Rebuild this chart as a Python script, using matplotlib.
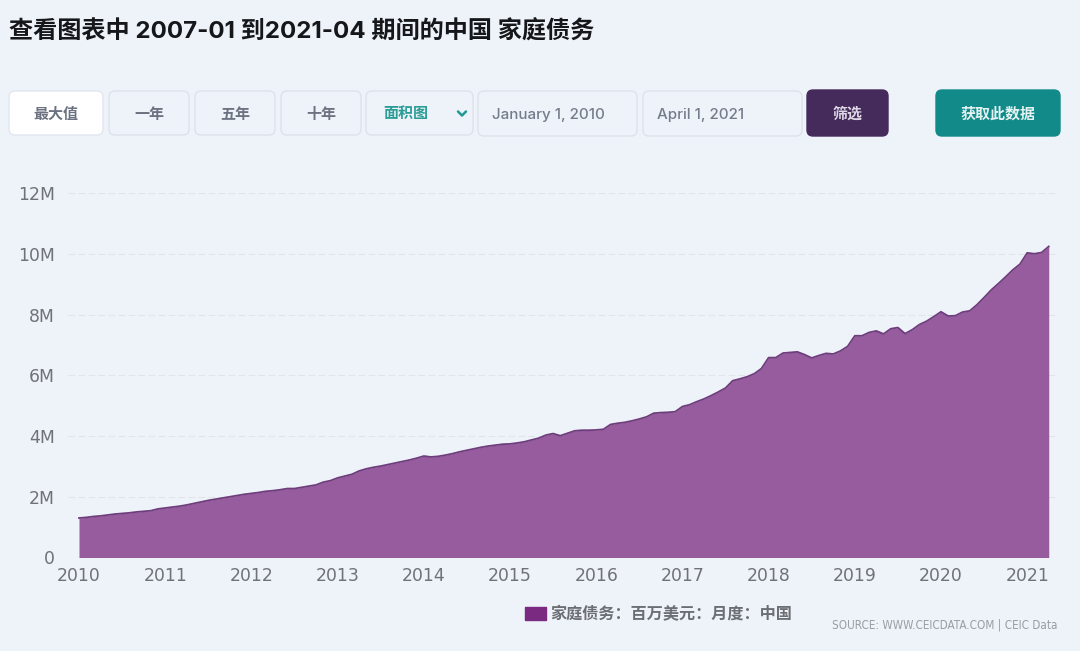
import matplotlib
matplotlib.use("Agg")
import matplotlib.pyplot as plt
from matplotlib.patches import FancyBboxPatch, Patch
from matplotlib.ticker import FuncFormatter

plt.rcParams["font.family"] = ["Inter", "Noto Sans CJK SC", "DejaVu Sans"]

# Monthly household debt, million USD ("M" on the axis)
debt_2010 = [1.30, 1.32, 1.35, 1.37, 1.40, 1.43, 1.45, 1.47, 1.50, 1.52, 1.54, 1.60]
debt_2011 = [1.63, 1.66, 1.69, 1.73, 1.78, 1.83, 1.88, 1.92, 1.96, 2.00, 2.04, 2.08]
debt_2012 = [2.11, 2.14, 2.18, 2.20, 2.23, 2.27, 2.27, 2.31, 2.35, 2.39, 2.48, 2.53]
debt_2013 = [2.62, 2.68, 2.74, 2.85, 2.92, 2.97, 3.01, 3.06, 3.11, 3.16, 3.21, 3.27]
debt_2014 = [3.34, 3.31, 3.33, 3.37, 3.42, 3.48, 3.53, 3.58, 3.63, 3.67, 3.70, 3.73]
debt_2015 = [3.74, 3.77, 3.81, 3.87, 3.93, 4.03, 4.08, 4.01, 4.09, 4.17, 4.19, 4.19]
debt_2016 = [4.20, 4.22, 4.38, 4.42, 4.45, 4.50, 4.56, 4.63, 4.75, 4.77, 4.78, 4.80]
debt_2017 = [4.97, 5.03, 5.13, 5.22, 5.33, 5.45, 5.58, 5.82, 5.88, 5.95, 6.05, 6.22]
debt_2018 = [6.58, 6.58, 6.73, 6.75, 6.77, 6.68, 6.57, 6.65, 6.72, 6.70, 6.80, 6.95]
debt_2019 = [7.30, 7.30, 7.41, 7.46, 7.36, 7.53, 7.57, 7.37, 7.50, 7.67, 7.78, 7.93]
debt_2020 = [8.09, 7.95, 7.96, 8.08, 8.12, 8.32, 8.56, 8.81, 9.02, 9.24, 9.47, 9.66]
debt_2021 = [10.03, 10.00, 10.04, 10.24]
debt = (debt_2010 + debt_2011 + debt_2012 + debt_2013 + debt_2014 + debt_2015
        + debt_2016 + debt_2017 + debt_2018 + debt_2019 + debt_2020 + debt_2021)
years = [2010 + i / 12 for i in range(len(debt))]

year_ticks = list(range(2010, 2022))
value_ticks = [0, 2, 4, 6, 8, 10, 12]

title = "查看图表中 2007-01 到2021-04 期间的中国 家庭债务"
legend_label = "家庭债务：百万美元：月度：中国"
source = "SOURCE: WWW.CEICDATA.COM | CEIC Data"

BG = "#eef2f9"
W, H = 1080, 651

fig = plt.figure(figsize=(W / 100, H / 100), dpi=100, facecolor=BG)

# Chart axes, placed by pixels so the gridlines run from 68 to 1058
px_per_year = 86.2
left, right, top, bottom = 68, 1058, 193, 557.5
ax = fig.add_axes([left / W, 1 - bottom / H, (right - left) / W, (bottom - top) / H])
ax.set_facecolor("none")
ax.fill_between(years, debt, 0, color="#965c9e", linewidth=0, zorder=2)
ax.plot(years, debt, color="#6e3d7c", linewidth=1.3, zorder=3)
ax.set_xlim(2010 - (79 - left) / px_per_year, 2010 + (right - 79) / px_per_year)
ax.set_ylim(0, 12)
ax.set_xticks(year_ticks)
ax.set_yticks(value_ticks)
ax.yaxis.set_major_formatter(FuncFormatter(lambda v, _: "0" if v == 0 else f"{v:.0f}M"))
ax.tick_params(length=0, labelsize=12.4, labelcolor="#6f7276")
ax.tick_params(axis="y", pad=9.5)
ax.tick_params(axis="x", pad=6.5)
for label in ax.get_xticklabels() + ax.get_yticklabels():
    label.set_family("DejaVu Sans")
ax.grid(axis="y", color="#e2e5e8", linewidth=0.8, linestyle=(0, (6, 3)), zorder=1)
for spine in ax.spines.values():
    spine.set_visible(False)

ax.legend(
    handles=[Patch(facecolor="#7a2a80", edgecolor="#7a2a80")],
    labels=[legend_label],
    loc="center",
    bbox_to_anchor=((658.5 - left) / (right - left), (bottom - 614) / (bottom - top)),
    frameon=False,
    fontsize=11.6,
    labelcolor="#6b6e72",
    prop={"weight": "bold", "size": 11.6},
    handlelength=1.3,
    handleheight=0.8,
    handletextpad=0.3,
    borderpad=0,
)

# Page furniture drawn in pixel coordinates on top of the chart
ui = fig.add_axes([0, 0, 1, 1])
ui.set_xlim(0, W)
ui.set_ylim(H, 0)
ui.axis("off")
ui.patch.set_alpha(0)

ui.text(9, 31.5, title, fontsize=17.4, fontweight="bold", color="#15171a", va="center")


def button(x0, x1, y0, y1, label, face=BG, edge="#dde2eb", color="#6c7280", weight="bold",
           size=10.8, text_x=None):
    ui.add_patch(FancyBboxPatch((x0 + 5, y0 + 5), x1 - x0 - 10, y1 - y0 - 10,
                                boxstyle="round,pad=5,rounding_size=6",
                                facecolor=face, edgecolor=edge, linewidth=1.0))
    if text_x is None:
        ui.text((x0 + x1) / 2, (y0 + y1) / 2 + 1.5, label, fontsize=size, color=color,
                ha="center", va="center", fontweight=weight)
    else:
        ui.text(text_x, (y0 + y1) / 2 + 1.2, label, fontsize=size, color=color,
                ha="left", va="center", fontweight=weight)


button(9, 103, 91, 135, "最大值", face="#ffffff", edge="#e2e6ee")
button(109, 189, 91, 135, "一年")
button(195, 275, 91, 135, "五年")
button(281, 361, 91, 135, "十年")
button(366, 473, 91, 135, "面积图", color="#2a9d96", text_x=383)
ui.plot([458, 462, 466], [111.5, 115.5, 111.5], color="#1f9a92", linewidth=1.8, solid_capstyle="round")
button(478, 637, 91, 136, "January 1, 2010", color="#747b8a", text_x=492, weight="medium", size=10.9)
button(643, 802, 91, 136, "April 1, 2021", color="#747b8a", text_x=657, weight="medium", size=10.9)
button(807, 888, 90, 136, "筛选", face="#452b5c", edge="#452b5c", color="#ddd6e4")
button(936, 1060, 90, 136, "获取此数据", face="#128a8a", edge="#128a8a", color="#e4f3f2")

ui.text(1058, 625, source, fontsize=8.4, color="#9a9ea3", ha="right", va="center",
        family=["DejaVu Sans"], stretch="condensed")

fig.savefig("out.png", dpi=100, facecolor=BG)
